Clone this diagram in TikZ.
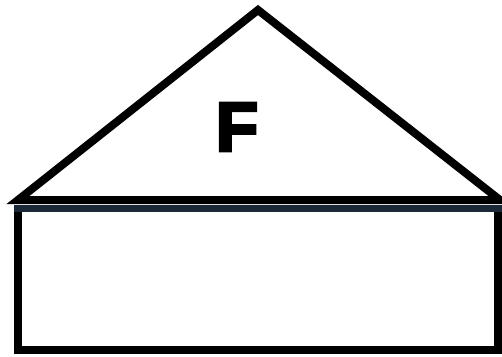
\documentclass[tikz,border=0pt]{standalone}
\usepackage{fontspec}
\setmainfont{Liberation Sans}
\newfontfamily\heavyf[FakeBold=4]{Liberation Sans Bold}
\definecolor{navyline}{HTML}{1B2838}
\begin{document}
\begin{tikzpicture}[x=1pt,y=-1pt,
  edge/.style={line width=8pt,draw=black,line join=miter,miter limit=20},
  label/.style={font=\fontsize{70}{70}\selectfont\heavyf,inner sep=0pt}]
\useasboundingbox (0,0) rectangle (502,356);
\fill[white] (0,0) rectangle (502,356);
\coordinate (bl) at (18,200);
\coordinate (ap) at (258,10);
\coordinate (br) at (500,200);
\coordinate (rtl) at (18,209);
\coordinate (rtr) at (498,209);
\coordinate (rbl) at (18,350);
\coordinate (rbr) at (498,350);
\draw[edge] (rtl) -- (rbl) -- (rbr) -- (rtr);
\draw[line width=7pt,draw=navyline] (14,208.5) -- (502,208.5);
\draw[edge] (bl) -- (ap) -- (br) -- cycle;
\node[label] (F) at (237,127) {F};
\end{tikzpicture}
\end{document}
